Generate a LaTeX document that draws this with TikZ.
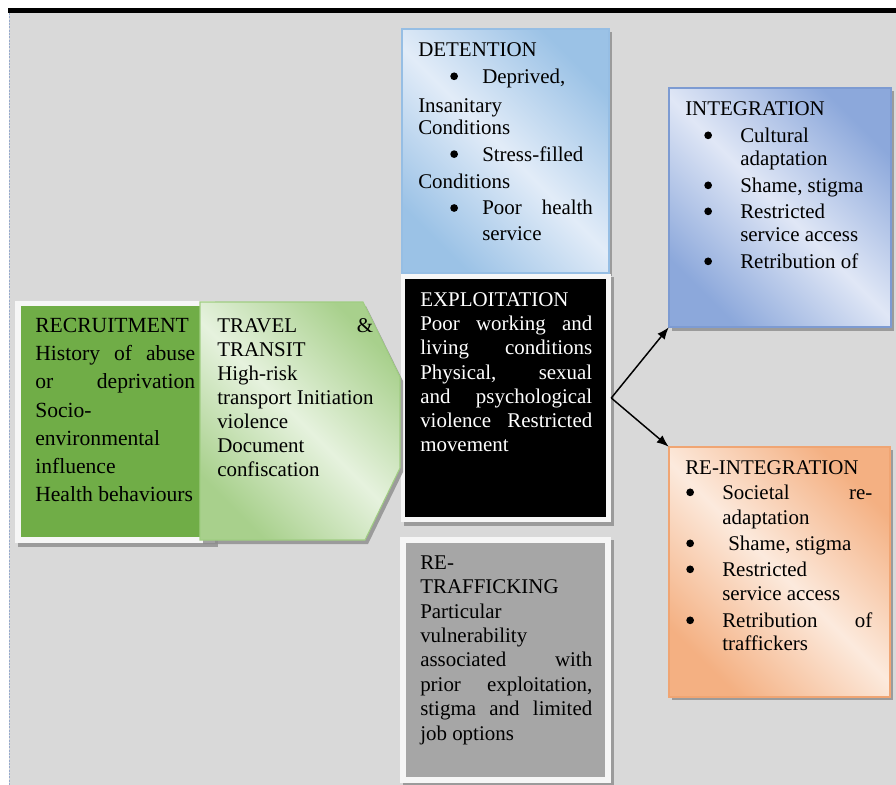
\documentclass[tikz,border=0pt]{standalone}
\usepackage{fontspec}
\setmainfont{Liberation Serif}
\usetikzlibrary{arrows.meta,fit}
\definecolor{bgc}{RGB}{217,217,217}
\definecolor{dashc}{RGB}{150,170,205}
\definecolor{shadowc}{RGB}{140,140,140}
\definecolor{framec}{RGB}{246,246,246}
\definecolor{recg}{RGB}{112,173,71}
\definecolor{trvB}{RGB}{168,208,140}
\definecolor{trvL}{RGB}{230,242,222}
\definecolor{trvE}{RGB}{160,205,130}
\definecolor{detB}{RGB}{155,194,230}
\definecolor{detL}{RGB}{226,236,248}
\definecolor{detE}{RGB}{150,190,228}
\definecolor{intB}{RGB}{140,168,219}
\definecolor{intL}{RGB}{224,231,246}
\definecolor{intE}{RGB}{125,155,210}
\definecolor{reiB}{RGB}{244,176,130}
\definecolor{reiL}{RGB}{252,234,221}
\definecolor{reiE}{RGB}{240,165,115}
\definecolor{retg}{RGB}{166,166,166}
\newcommand\fl{\rule{0pt}{12pt}}
\newcommand\bulc{\tikz[x=1pt,y=1pt,baseline=0pt]{\fill[black] (3,5.2) circle (2.9);}}
\begin{document}
\begin{tikzpicture}[x=0.75pt,y=-0.75pt,
  grad/.style n args={2}{top color=#1, bottom color=#1, middle color=#2, shading angle=-45},
  shadowbox/.style={fill=shadowc, opacity=0.8, draw=none},
  txt/.style={anchor=north west, inner sep=0pt, align=left, font=\fontsize{15.7pt}{18pt}\selectfont},
  boxname/.style={inner sep=0pt, draw=none},
  arrowline/.style={line width=1.1pt, -{Latex[length=9pt,width=7pt]}}]
\useasboundingbox (0,0) rectangle (896,785);
\fill[white] (0,0) rectangle (896,785);
\fill[bgc] (9,13) rectangle (896,785);
\fill[black] (8,8) rectangle (896,12.5);
\draw[dashc, line width=0.6pt, dash pattern=on 1.5pt off 1pt] (9,13) -- (9,785);

% DETENTION
\fill[shadowbox] (405,32) rectangle (612,276);
\shade[grad={detB}{detL}] (402,29) rectangle (609,273);
\draw[detE, line width=0.8pt] (402,29) rectangle (609,273);
\node[boxname, fit={(402,29)(609,273)}] (det) {};

% EXPLOITATION
\fill[shadowbox] (404,277) rectangle (614,526);
\fill[framec] (401,274) rectangle (611,522);
\fill[black] (405,279) rectangle (606,517);
\node[boxname, fit={(401,274)(611,522)}] (expl) {};

% RE-TRAFFICKING
\fill[shadowbox] (403,540) rectangle (614,785);
\fill[framec] (400,537) rectangle (611,783);
\fill[retg] (406,543) rectangle (605,777);
\node[boxname, fit={(400,537)(611,783)}] (retr) {};

% RECRUITMENT
\fill[shadowbox] (18,305) rectangle (218,547);
\fill[framec] (15,301) rectangle (215,543);
\fill[recg] (21,306) rectangle (210,537);
\node[boxname, fit={(15,301)(215,543)}] (recr) {};

% TRAVEL & TRANSIT
\fill[shadowbox] (203,306) -- (366,306) -- (403,381) -- (403,472) -- (368,544) -- (203,544) -- cycle;
\shade[grad={trvB}{trvL}] (200,302) -- (363,302) -- (400,377) -- (400,468) -- (365,540) -- (200,540) -- cycle;
\draw[trvE, line width=0.8pt] (200,302) -- (363,302) -- (400,377) -- (400,468) -- (365,540) -- (200,540) -- cycle;
\node[boxname, fit={(200,302)(400,540)}] (trav) {};

% INTEGRATION
\fill[shadowbox] (672,91) rectangle (894,331);
\shade[grad={intB}{intL}] (669,88) rectangle (891,327);
\draw[intE, line width=0.8pt] (669,88) rectangle (891,327);
\node[boxname, fit={(669,88)(891,327)}] (integ) {};

% RE-INTEGRATION
\fill[shadowbox] (672,450) rectangle (893,700);
\shade[grad={reiB}{reiL}] (669,447) rectangle (890,697);
\draw[reiE, line width=0.8pt] (669,447) rectangle (890,697);
\node[boxname, fit={(669,447)(890,697)}] (reint) {};

% texts
\node[txt, font=\fontsize{16.2pt}{21.2pt}\selectfont] (trecr) at (35,316) {\fl RECRUITMENT\\
\makebox[120pt][s]{History of abuse}\\
\makebox[120pt][s]{or deprivation}\\
Socio-\\
environmental\\
influence\\
Health behaviours};

\node[txt] (ttrav) at (217,316) {\fl\makebox[117pt][s]{TRAVEL \&}\\
TRANSIT\\
High-risk\\
transport Initiation\\
violence\\
Document\\
confiscation};

\node[txt, text=white, font=\fontsize{15.7pt}{18.2pt}\selectfont] (texpl) at (420,290) {\fl EXPLOITATION\\
\makebox[129pt][s]{Poor working and}\\
\makebox[129pt][s]{living conditions}\\
\makebox[129pt][s]{Physical, sexual}\\
\makebox[129pt][s]{and psychological}\\
\makebox[129pt][s]{violence Restricted}\\
movement};

\node[txt, font=\fontsize{15.7pt}{18.3pt}\selectfont] (tretr) at (420,553) {\fl RE-\\
TRAFFICKING\\
Particular\\
vulnerability\\
\makebox[129pt][s]{associated with}\\
\makebox[129pt][s]{prior exploitation,}\\
\makebox[129pt][s]{stigma and limited}\\
job options};

\node[txt] (tdet) at (418,40) {\fl DETENTION\\[2.2pt]
\hspace*{24pt}\makebox[24pt][l]{\bulc}Deprived,\\[3.7pt]
Insanitary\\[-1.5pt]
Conditions\\[2.2pt]
\hspace*{24pt}\makebox[24pt][l]{\bulc}Stress-filled\\[2.2pt]
Conditions\\[2.2pt]
\hspace*{24pt}\makebox[24pt][l]{\bulc}\makebox[83pt][s]{Poor health}\\[1.5pt]
\hspace*{48pt}service};

\node[txt] (tinteg) at (685,99) {\fl INTEGRATION\\[2.25pt]
\hspace*{14.25pt}\makebox[27pt][l]{\bulc}Cultural\\[-0.75pt]
\hspace*{41.25pt}adaptation\\[2.25pt]
\hspace*{14.25pt}\makebox[27pt][l]{\bulc}Shame, stigma\\[1.5pt]
\hspace*{14.25pt}\makebox[27pt][l]{\bulc}Restricted\\[-0.75pt]
\hspace*{41.25pt}service access\\[2.25pt]
\hspace*{14.25pt}\makebox[27pt][l]{\bulc}Retribution of};

\node[txt] (treint) at (685,458) {\fl RE-INTEGRATION\\[0.75pt]
\hspace*{0.75pt}\makebox[27pt][l]{\bulc}\makebox[112.5pt][s]{Societal re-}\\[0.75pt]
\hspace*{27.75pt}adaptation\\[1.5pt]
\hspace*{0.75pt}\makebox[27pt][l]{\bulc}\hspace*{4.5pt}Shame, stigma\\[1.5pt]
\hspace*{0.75pt}\makebox[27pt][l]{\bulc}Restricted\\
\hspace*{27.75pt}service access\\[2.25pt]
\hspace*{0.75pt}\makebox[27pt][l]{\bulc}\makebox[112.5pt][s]{Retribution of}\\[-0.75pt]
\hspace*{27.75pt}traffickers};

% arrows
\draw[arrowline] (expl.east) -- (integ.south west);
\draw[arrowline] (expl.east) -- (reint.north west);
\end{tikzpicture}
\end{document}
